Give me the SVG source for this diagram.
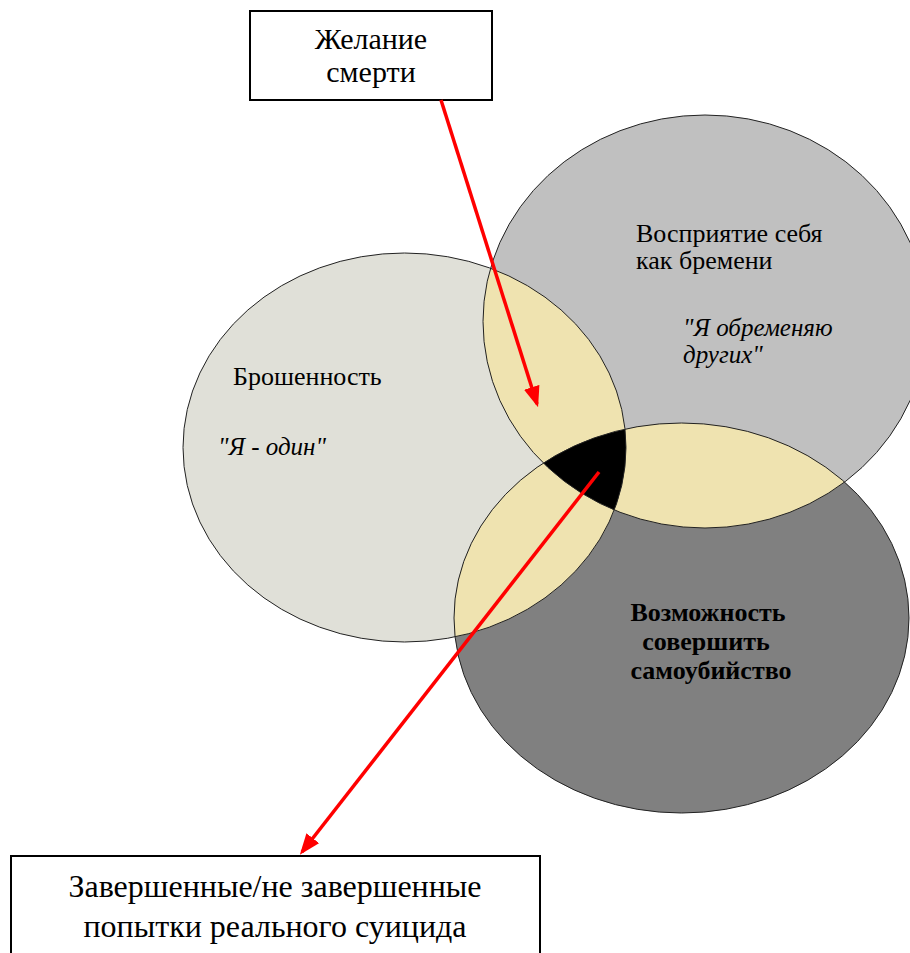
<svg xmlns="http://www.w3.org/2000/svg" width="910" height="953" viewBox="0 0 910 953">
<style>
.ol{fill:none;stroke:#222;stroke-width:1}
.lens{fill:#EFE3B0}
.t{font-family:'Liberation Serif','DejaVu Serif',serif;fill:#000}
.box{fill:#fff;stroke:#000;stroke-width:2}
.arr{stroke:#FF0000;stroke-width:3.5;fill:none}
</style>
<defs>
<clipPath id="cA"><ellipse cx="404.5" cy="447.5" rx="221.5" ry="194.5"/></clipPath>
<clipPath id="cB"><ellipse cx="705" cy="321.5" rx="222" ry="206.5"/></clipPath>
<marker id="ah" markerWidth="6" markerHeight="4.6" refX="5" refY="2.3" orient="auto" markerUnits="strokeWidth">
<path d="M0,0 L6,2.3 L0,4.6 z" fill="#FF0000"/>
</marker>
</defs>
<g id="circle-abandonment">
<ellipse cx="404.5" cy="447.5" rx="221.5" ry="194.5" fill="#E0E0D8"/>
</g>
<g id="circle-burden">
<ellipse cx="705" cy="321.5" rx="222" ry="206.5" fill="#C0C0C0"/>
</g>
<g id="circle-capability">
<ellipse cx="681.5" cy="618" rx="227.5" ry="195" fill="#808080"/>
</g>
<g id="overlaps">
<g clip-path="url(#cA)"><ellipse class="lens" cx="705" cy="321.5" rx="222" ry="206.5"/></g>
<g clip-path="url(#cA)"><ellipse class="lens" cx="681.5" cy="618" rx="227.5" ry="195"/></g>
<g clip-path="url(#cB)"><ellipse class="lens" cx="681.5" cy="618" rx="227.5" ry="195"/></g>
<g clip-path="url(#cA)"><g clip-path="url(#cB)"><ellipse fill="#000" cx="681.5" cy="618" rx="227.5" ry="195"/></g></g>
</g>
<g id="outlines">
<ellipse class="ol" cx="404.5" cy="447.5" rx="221.5" ry="194.5"/>
<ellipse class="ol" cx="705" cy="321.5" rx="222" ry="206.5"/>
<ellipse class="ol" cx="681.5" cy="618" rx="227.5" ry="195"/>
</g>
<g id="labels">
<text class="t" x="233" y="385" font-size="26">Брошенность</text>
<text class="t" x="218" y="455" font-size="25" font-style="italic">"Я - один"</text>
<text class="t" x="636" y="242" font-size="26">Восприятие себя</text>
<text class="t" x="636" y="269" font-size="26">как бремени</text>
<text class="t" x="683" y="336" font-size="25" font-style="italic">"Я обременяю</text>
<text class="t" x="683" y="363" font-size="25" font-style="italic">других"</text>
<text class="t" x="708" y="621" font-size="26" font-weight="bold" text-anchor="middle">Возможность</text>
<text class="t" x="706" y="650" font-size="26" font-weight="bold" text-anchor="middle">совершить</text>
<text class="t" x="711" y="679" font-size="26" font-weight="bold" text-anchor="middle">самоубийство</text>
</g>
<g id="node-wish">
<rect class="box" x="250" y="11" width="242" height="89"/>
<text class="t" x="371" y="49" font-size="30" text-anchor="middle">Желание</text>
<text class="t" x="371" y="82" font-size="30" text-anchor="middle">смерти</text>
</g>
<g id="node-attempts">
<rect class="box" x="11" y="856" width="529" height="110"/>
<text class="t" x="275" y="897" font-size="32" text-anchor="middle">Завершенные/не завершенные</text>
<text class="t" x="275" y="937" font-size="32" text-anchor="middle">попытки реального суицида</text>
</g>
<g id="connectors">
<line class="arr" x1="441" y1="100" x2="537" y2="404" marker-end="url(#ah)"/>
<line class="arr" x1="599" y1="472" x2="302" y2="852" marker-end="url(#ah)"/>
</g>
</svg>
